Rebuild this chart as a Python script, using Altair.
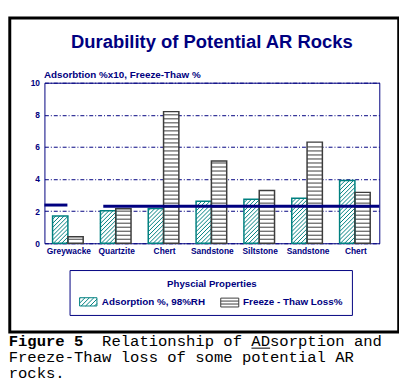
import json
import altair as alt
import pandas as pd

# ---------------- data ----------------
rocks = ["Greywacke", "Quartzite", "Chert", "Sandstone", "Siltstone", "Sandstone", "Chert"]
adsorption = [1.70, 2.02, 2.17, 2.62, 2.74, 2.80, 3.91]      # Adsorption % x10
freeze_thaw = [0.41, 2.15, 8.20, 5.13, 3.29, 6.30, 3.17]     # Freeze-Thaw loss %
y_ticks = [0, 2, 4, 6, 8, 10]
ref_start = [0.0, 1.23]    # thick reference line segments (category units)
ref_end = [0.48, 7.0]
ref_level = [2.38, 2.30]

title_text = "Durability of Potential AR Rocks"
y_title = "Adsorbtion %x10, Freeze-Thaw %"
legend_title = "Physcial Properties"
series_names = ["Adsorption %, 98%RH", "Freeze - Thaw Loss%"]
caption_bold = "Figure 5"
caption_lines = ["Relationship of ADsorption and",
                 "Freeze-Thaw loss of some potential AR",
                 "rocks."]

# ---------------- styling / layout ----------------
NAVY = "#000080"
TEAL = "#008080"
GREY = "#3c3c3c"
FONT = "Liberation Sans, Arial, Helvetica, sans-serif"
MONO = "Liberation Mono, Courier New, monospace"
W, H = 340, 163
N = len(rocks)
KX = W / N          # px per category unit
KY = H / 10         # px per y unit
A0, A1, F1 = 0.17, 0.49, 0.81   # bar slots within a category
HATCH = 4.2         # px between diagonal hatch lines
STRIPE = 0.25       # y units between horizontal stripes


def hatch_segments(x0, x1, top):
    """diagonal '/' hatch lines clipped to a bar, returned in data units"""
    w = (x1 - x0) * KX
    h = top * KY
    segs = []
    c = -w + HATCH / 2
    while c < h:
        us, ue = max(0.0, -c), min(w, h - c)
        if ue > us:
            segs.append(dict(x0=x0 + us / KX, y0=(us + c) / KY,
                             x1=x0 + ue / KX, y1=(ue + c) / KY))
        c += HATCH
    return segs


bars_a, bars_f, hatch_rows, stripe_rows = [], [], [], []
for i, (a, f) in enumerate(zip(adsorption, freeze_thaw)):
    bars_a.append(dict(x0=i + A0, x1=i + A1, top=a, rock=rocks[i]))
    bars_f.append(dict(x0=i + A1, x1=i + F1, top=f, rock=rocks[i]))
    hatch_rows += hatch_segments(i + A0, i + A1, a)
    k = 1
    while k * STRIPE < f - 0.06:
        stripe_rows.append(dict(x0=i + A1, x1=i + F1, y=k * STRIPE))
        k += 1

df_a = pd.DataFrame(bars_a)
df_f = pd.DataFrame(bars_f)
df_h = pd.DataFrame(hatch_rows)
df_s = pd.DataFrame(stripe_rows)
df_ref = pd.DataFrame(dict(x0=ref_start, x1=ref_end, y=ref_level))
one = pd.DataFrame({"k": [0]})

xscale = alt.Scale(domain=[0, N], nice=False, zero=False)
yscale = alt.Scale(domain=[0, 10], nice=False)

label_expr = json.dumps(rocks) + "[floor(datum.value)]"
x_axis = alt.Axis(values=[i + 0.5 for i in range(N)], labelExpr=label_expr,
                  grid=False, ticks=False, domain=False, labelFlush=False,
                  labelOverlap=False, labelPadding=3, labelColor=NAVY,
                  labelFont=FONT, labelFontSize=8.5, labelFontWeight="bold",
                  title=None)
y_axis = alt.Axis(values=y_ticks, grid=True, gridColor=NAVY, gridDash=[4, 2, 1, 2],
                  gridWidth=1, domain=False, ticks=False, labelFlush=False,
                  labelPadding=5, labelColor=NAVY, labelFont=FONT, labelFontSize=8.5,
                  labelFontWeight="bold", title=y_title, titleAngle=0,
                  titleAlign="left", titleBaseline="alphabetic", titleX=-1,
                  titleY=-5.5, titleColor=NAVY, titleFont=FONT, titleFontSize=10,
                  titleFontWeight="bold")


def X(field):
    return alt.X(field, type="quantitative", scale=xscale, axis=x_axis)


def Y(field):
    return alt.Y(field, type="quantitative", scale=yscale, axis=y_axis)


# ---------------- bars ----------------
bar_a_fill = alt.Chart(df_a).mark_rect(fill="white").encode(
    x=X("x0"), x2="x1:Q", y=Y("top"), y2=alt.datum(0),
    tooltip=["rock:N", "top:Q"])
bar_f_fill = alt.Chart(df_f).mark_rect(fill="white").encode(
    x=X("x0"), x2="x1:Q", y=Y("top"), y2=alt.datum(0),
    tooltip=["rock:N", "top:Q"])
hatch = alt.Chart(df_h).mark_rule(color=TEAL, strokeWidth=1).encode(
    x=X("x0"), x2="x1:Q", y=Y("y0"), y2="y1:Q")
stripes = alt.Chart(df_s).mark_rule(color=GREY, strokeWidth=1).encode(
    x=X("x0"), x2="x1:Q", y=Y("y"))
bar_a_edge = alt.Chart(df_a).mark_rect(fillOpacity=0, stroke=TEAL, strokeWidth=1.5).encode(
    x=X("x0"), x2="x1:Q", y=Y("top"), y2=alt.datum(0))
bar_f_edge = alt.Chart(df_f).mark_rect(fillOpacity=0, stroke=GREY, strokeWidth=1.5).encode(
    x=X("x0"), x2="x1:Q", y=Y("top"), y2=alt.datum(0))
ref_line = alt.Chart(df_ref).mark_rule(color=NAVY, strokeWidth=3).encode(
    x=X("x0"), x2="x1:Q", y=Y("y"))


# ---------------- decorations (pixel positions, relative to plot origin) ----------------
def box(x0, x1, y0, y1, **kw):
    return alt.Chart(one).mark_rect(**kw).encode(
        x=alt.value(x0), x2=alt.value(x1), y=alt.value(y0), y2=alt.value(y1))


def seg(x0, x1, y0, y1, **kw):
    return alt.Chart(one).mark_rule(**kw).encode(
        x=alt.value(x0), x2=alt.value(x1), y=alt.value(y0), y2=alt.value(y1))


def label(txt, x, y, **kw):
    return alt.Chart(one).mark_text(text=txt, baseline="alphabetic", **kw).encode(
        x=alt.value(x), y=alt.value(y))


frame = box(-35.2, 359.7, -65.7, 253.2, fillOpacity=0, stroke="black", strokeWidth=3)
title = label(title_text, W / 2, -35, align="center", font=FONT, fontSize=18.7,
              fontWeight="bold", color=NAVY)
legend_box = box(26, 312.7, 190.7, 236.3, fillOpacity=0, stroke=NAVY, strokeWidth=1)
legend_head = label(legend_title, 170, 207, align="center", font=FONT, fontSize=9.8,
                    fontWeight="bold", color=NAVY)

SW1 = (35.7, 53.3, 218.3, 226.7)
SW2 = (179.0, 197.3, 218.7, 227.7)
deco = [frame, title, legend_box, legend_head,
        box(*SW1, fill="white", stroke=TEAL, strokeWidth=1)]
w_, h_ = SW1[1] - SW1[0], SW1[3] - SW1[2]
c = -w_ + 2.5
while c < h_:
    us, ue = max(0.0, -c), min(w_, h_ - c)
    if ue > us:
        deco.append(seg(SW1[0] + us, SW1[0] + ue, SW1[3] - (us + c), SW1[3] - (ue + c),
                        color=TEAL, strokeWidth=1))
    c += 4.5
deco.append(box(*SW2, fill="white", stroke=GREY, strokeWidth=1))
for dy in (3, 6):
    deco.append(seg(SW2[0], SW2[1], SW2[2] + dy, SW2[2] + dy, color=GREY, strokeWidth=1))
deco.append(label(series_names[0], 58.3, 225.5, align="left", font=FONT, fontSize=10,
                  fontWeight="bold", color=NAVY))
deco.append(label(series_names[1], 201.7, 225.5, align="left", font=FONT, fontSize=10,
                  fontWeight="bold", color=NAVY))

# caption (monospace)
CFS = 15.8
CH = 0.6 * CFS
CX = -36.3
CY = [267.5, 283.5, 299.5]
deco.append(label(caption_bold, CX, CY[0], align="left", font=MONO, fontSize=CFS,
                  fontWeight="bold", color="black"))
deco.append(label(caption_lines[0], CX + 10 * CH, CY[0], align="left", font=MONO,
                  fontSize=CFS, color="black"))
deco.append(label(caption_lines[1], CX, CY[1], align="left", font=MONO, fontSize=CFS,
                  color="black"))
deco.append(label(caption_lines[2], CX, CY[2], align="left", font=MONO, fontSize=CFS,
                  color="black"))
ad_col = 10 + caption_lines[0].index("AD")
deco.append(seg(CX + ad_col * CH, CX + (ad_col + 2) * CH, CY[0] + 2, CY[0] + 2,
                color="black", strokeWidth=1))

chart = alt.layer(
    bar_a_fill, bar_f_fill, hatch, stripes, bar_a_edge, bar_f_edge, ref_line, *deco
).properties(
    width=W, height=H,
    autosize=alt.AutoSizeParams(type="none"),
    padding={"left": 37, "top": 73, "right": 20, "bottom": 138},
    background="white",
).configure_view(stroke=NAVY, strokeWidth=1)

chart.save("out.html", embed_options={"renderer": "svg", "actions": False})
